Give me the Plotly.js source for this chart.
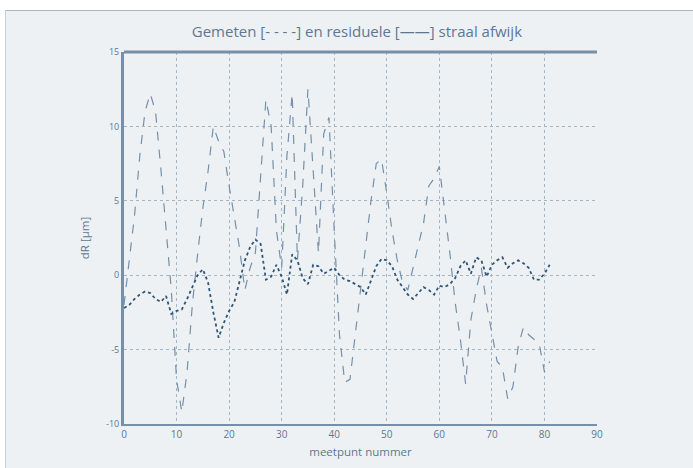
<!DOCTYPE html>
<html>
<head>
<meta charset="utf-8">
<script src="https://cdn.plot.ly/plotly-3.0.1.min.js"></script>
<style>
  html, body { margin: 0; padding: 0; background: #ffffff; }
  #panel { position: absolute; left: 5px; top: 10px; width: 688px; height: 458px;
           background: #eef1f4; border-top: 1px solid #a9b7c5; border-left: 1px solid #c5d0da; }
  #chart { position: absolute; left: 0; top: 0; width: 693px; height: 468px; }
</style>
</head>
<body>
<div id="panel"></div>
<div id="chart"></div>
<script>
// meetpunt nummer
const meetpunt = [];
for (let i = 0; i <= 81; i++) meetpunt.push(i);

// Gemeten straal afwijking [µm] (dashed)
const gemeten = [
  -2.0, 1.0, 4.0, 8.0, 11.0, 12.2, 11.0, 7.2, 3.2, -1.0,
  -7.0, -9.2, -6.5, -2.0, 1.4, 4.5, 7.0, 10.0, 9.0, 8.3,
  6.0, 3.8, 1.8, -1.0, 0.5, 1.5, 7.0, 11.8, 10.0, 3.0,
  0.5, 8.0, 12.2, 1.0, 6.0, 12.5, 7.0, 1.5, 9.5, 10.6,
  3.0, -4.0, -7.2, -7.0, -4.0, -1.0, 2.0, 5.0, 7.5, 7.8,
  5.5, 3.0, 1.0, -0.5, -1.0, 0.5, 2.0, 3.5, 6.0, 6.5,
  7.3, 4.5, 1.5, -1.8, -4.3, -7.3, -3.0, -1.0, 0.5, -2.0,
  -3.8, -5.8, -6.2, -8.3, -7.5, -4.8, -3.5, -4.0, -4.3, -4.6,
  -6.5, -5.8
];

// Residuele straal afwijking [µm] (solid)
const residueel = [
  -2.2, -2.0, -1.6, -1.3, -1.1, -1.2, -1.6, -1.8, -1.4, -2.6,
  -2.4, -2.3, -1.6, -0.8, 0.0, 0.4, -0.5, -2.5, -4.2, -3.2,
  -2.4, -1.8, -0.3, 1.0, 1.9, 2.4, 2.1, -0.3, -0.1, 0.7,
  -0.1, -1.3, 1.4, 1.0, -0.2, -0.6, 0.7, 0.6, 0.1, 0.3,
  0.5, 0.0, -0.3, -0.4, -0.6, -0.8, -1.3, -0.3, 0.6, 1.1,
  1.0, 0.6, -0.3, -0.8, -1.3, -1.6, -1.2, -0.8, -1.0, -1.3,
  -0.7, -0.8, -0.6, -0.2, 0.6, 1.0, 0.1, 1.2, 1.0, -0.1,
  0.7, 1.0, 1.2, 0.5, 0.8, 1.0, 0.8, 0.5, -0.3, -0.3,
  0.1, 0.7
];

const xTicks = [0, 10, 20, 30, 40, 50, 60, 70, 80, 90];
const yTicks = [-10, -5, 0, 5, 10, 15];

const axisColor = '#7590a8';
const textColor = '#5d7791';

const traces = [
  {
    x: meetpunt, y: gemeten, type: 'scatter', mode: 'lines',
    line: { color: '#7490aa', width: 1.2, dash: 'dash' },
    name: 'Gemeten', hoverinfo: 'skip'
  },
  {
    x: meetpunt, y: residueel, type: 'scatter', mode: 'lines',
    line: { color: '#2f5576', width: 1.8, dash: 'dot' },
    name: 'Residueel', hoverinfo: 'skip'
  }
];

const layout = {
  width: 693, height: 468,
  margin: { l: 124, r: 96, t: 52, b: 44 },
  paper_bgcolor: 'rgba(0,0,0,0)',
  plot_bgcolor: 'rgba(0,0,0,0)',
  showlegend: false,
  font: { family: 'Open Sans, sans-serif', color: textColor },
  title: {
    text: 'Gemeten [- - - -] en residuele [——] straal afwijk',
    font: { family: 'Open Sans, sans-serif', size: 15, color: textColor },
    x: 0.515, xanchor: 'center', y: 1 - 32 / 468, yanchor: 'middle'
  },
  xaxis: {
    range: [0, 90], tickvals: xTicks, ticktext: xTicks.map(String),
    showgrid: true, gridcolor: '#a4b6c6', griddash: 'dot', gridwidth: 1,
    zeroline: false, showline: true, linecolor: axisColor, linewidth: 1.5,
    ticks: '', tickfont: { size: 10, color: textColor },
    title: { text: 'meetpunt nummer', font: { size: 11.5, color: textColor }, standoff: 8 }
  },
  yaxis: {
    range: [-10, 15], tickvals: yTicks, ticktext: yTicks.map(String),
    showgrid: true, gridcolor: '#a4b6c6', griddash: 'dot', gridwidth: 1,
    zeroline: false, showline: true, linecolor: axisColor, linewidth: 3,
    ticks: '', tickfont: { size: 9, color: textColor },
    title: { text: 'dR [µm]', font: { size: 11.5, color: textColor }, standoff: 14 }
  },
  shapes: [
    { type: 'line', xref: 'paper', yref: 'paper', x0: 0, x1: 1, y0: 1, y1: 1,
      line: { color: axisColor, width: 3 } }
  ]
};

Plotly.newPlot('chart', traces, layout, { displayModeBar: false, staticPlot: true });
</script>
</body>
</html>
